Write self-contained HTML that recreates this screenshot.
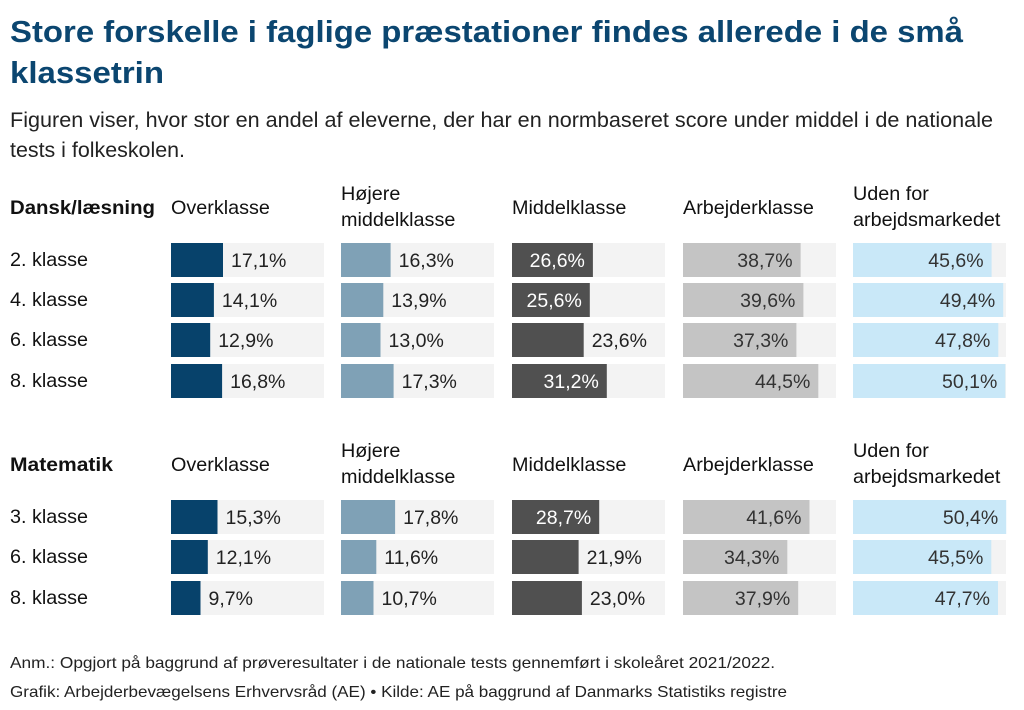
<!DOCTYPE html>
<html><head><meta charset="utf-8"><style>
html,body{margin:0;padding:0;background:#fff;}
svg{display:block;font-family:"Liberation Sans",sans-serif;}
</style></head><body>
<svg width="1024" height="710" viewBox="0 0 1024 710" xmlns="http://www.w3.org/2000/svg">
<text x="10" y="42" font-size="31" font-weight="bold" fill="#0b4670" textLength="953" lengthAdjust="spacingAndGlyphs">Store forskelle i faglige præstationer findes allerede i de små</text>
<text x="10" y="83" font-size="31" font-weight="bold" fill="#0b4670" textLength="154" lengthAdjust="spacingAndGlyphs">klassetrin</text>
<text x="10" y="127" font-size="21" fill="#222" textLength="983" lengthAdjust="spacingAndGlyphs">Figuren viser, hvor stor en andel af eleverne, der har en normbaseret score under middel i de nationale</text>
<text x="10" y="157" font-size="21" fill="#222" textLength="175" lengthAdjust="spacingAndGlyphs">tests i folkeskolen.</text>

<g font-size="19.8" fill="#111">
<text x="10" y="214" font-weight="bold" textLength="145" lengthAdjust="spacingAndGlyphs">Dansk/læsning</text>
<text x="171" y="214">Overklasse</text>
<text x="341" y="200">Højere</text><text x="341" y="226">middelklasse</text>
<text x="512" y="214">Middelklasse</text>
<text x="683" y="214">Arbejderklasse</text>
<text x="853" y="200">Uden for</text><text x="853" y="226">arbejdsmarkedet</text>

<text x="10" y="471" font-weight="bold" textLength="103" lengthAdjust="spacingAndGlyphs">Matematik</text>
<text x="171" y="471">Overklasse</text>
<text x="341" y="457">Højere</text><text x="341" y="483">middelklasse</text>
<text x="512" y="471">Middelklasse</text>
<text x="683" y="471">Arbejderklasse</text>
<text x="853" y="457">Uden for</text><text x="853" y="483">arbejdsmarkedet</text>

<text x="10" y="266">2. klasse</text>
<text x="10" y="306">4. klasse</text>
<text x="10" y="346">6. klasse</text>
<text x="10" y="387">8. klasse</text>
<text x="10" y="523">3. klasse</text>
<text x="10" y="563">6. klasse</text>
<text x="10" y="604">8. klasse</text>
</g>

<g id="bars" font-size="19.5"></g>

<text x="10" y="668" font-size="16" fill="#222" textLength="765" lengthAdjust="spacingAndGlyphs">Anm.: Opgjort på baggrund af prøveresultater i de nationale tests gennemført i skoleåret 2021/2022.</text>
<text x="10" y="697" font-size="16" fill="#222" textLength="777" lengthAdjust="spacingAndGlyphs">Grafik: Arbejderbevægelsens Erhvervsråd (AE) • Kilde: AE på baggrund af Danmarks Statistiks registre</text>
</svg>
<script>
var g=document.getElementById('bars');
var xs=[171,341,512,683,853],cols=['#07426b','#7fa1b6','#505050','#c4c4c4','#c9e8f8'];
var rows=[[243,[17.1,16.3,26.6,38.7,45.6]],[283,[14.1,13.9,25.6,39.6,49.4]],[323,[12.9,13.0,23.6,37.3,47.8]],[364,[16.8,17.3,31.2,44.5,50.1]],
[500,[15.3,17.8,28.7,41.6,50.4]],[540,[12.1,11.6,21.9,34.3,45.5]],[581,[9.7,10.7,23.0,37.9,47.7]]];
var s='',k=3.04;
rows.forEach(function(r){var y=r[0];r[1].forEach(function(v,i){
var x=xs[i],w=v*k,lab=v.toFixed(1).replace('.',',')+'%';
s+='<rect x="'+x+'" y="'+y+'" width="153" height="34" fill="#f3f3f3"/>';
s+='<rect x="'+x+'" y="'+y+'" width="'+w.toFixed(1)+'" height="34" fill="'+cols[i]+'"/>';
var inside=(i>=3)||(i==2&&v>25);
if(inside){s+='<text x="'+(x+w-8).toFixed(1)+'" y="'+(y+24)+'" text-anchor="end" fill="'+(i==2?'#fff':'#333')+'">'+lab+'</text>';}
else{s+='<text x="'+(x+w+8).toFixed(1)+'" y="'+(y+24)+'" fill="#222">'+lab+'</text>';}
});});
g.innerHTML=s;
</script>
</body></html>
